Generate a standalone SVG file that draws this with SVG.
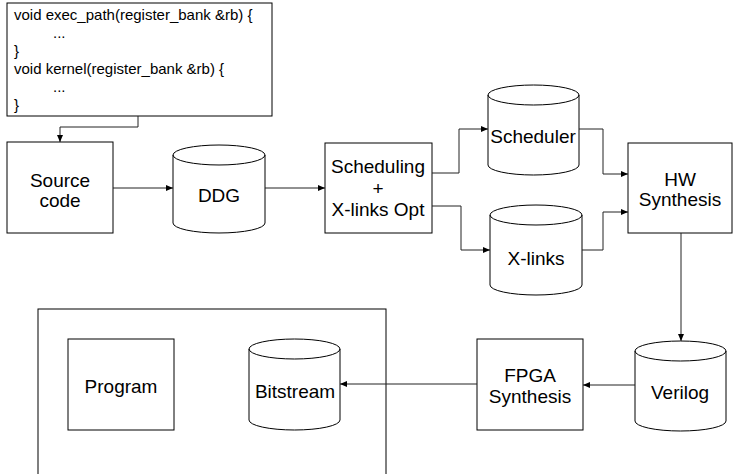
<svg xmlns="http://www.w3.org/2000/svg" width="734" height="474" viewBox="0 0 734 474">
<style>
.box{fill:#fff;stroke:#000;stroke-width:1}
.cyl{fill:#fff;stroke:#000;stroke-width:1}
.lbl{font-family:"Liberation Sans",Arial,sans-serif;font-size:19px;fill:#000;text-anchor:middle}
.code{font-family:"Liberation Sans",Arial,sans-serif;font-size:15px;fill:#000}
.con{fill:none;stroke:#222;stroke-width:1;marker-end:url(#arr)}
</style>
<defs>
<marker id="arr" markerUnits="userSpaceOnUse" markerWidth="8" markerHeight="6" refX="7" refY="3" orient="auto">
<path d="M0,0 L7,3 L0,6 z" fill="#000"/>
</marker>
</defs>
<rect width="734" height="474" fill="#fff"/>
<g id="container"><rect class="box" x="38" y="309" width="348" height="180"/></g>
<g id="code-box">
<rect class="box" x="7" y="3" width="265" height="113"/>
<text class="code" x="14" y="20">void exec_path(register_bank &amp;rb) {</text>
<text class="code" x="53" y="38">...</text>
<text class="code" x="14" y="56">}</text>
<text class="code" x="14" y="74">void kernel(register_bank &amp;rb) {</text>
<text class="code" x="53" y="92">...</text>
<text class="code" x="14" y="110">}</text>
</g>
<g id="source-code">
<rect class="box" x="7" y="142" width="106" height="91"/>
<text class="lbl" x="60" y="187">Source</text>
<text class="lbl" x="60" y="207">code</text>
</g>
<g id="ddg">
<path class="cyl" d="M173,155 A46,10 0 0 1 265,155 A46,10 0 0 1 173,155 Z M173,155 V223 A46,10 0 0 0 265,223 V155"/>
<text class="lbl" x="219" y="202">DDG</text>
</g>
<g id="scheduling">
<rect class="box" x="325" y="143" width="107" height="90"/>
<text class="lbl" x="378" y="173">Scheduling</text>
<text class="lbl" x="378" y="195">+</text>
<text class="lbl" x="378" y="216">X-links Opt</text>
</g>
<g id="scheduler">
<path class="cyl" d="M488,95 A45.5,10 0 0 1 579,95 A45.5,10 0 0 1 488,95 Z M488,95 V165 A45.5,10 0 0 0 579,165 V95"/>
<text class="lbl" x="533" y="143">Scheduler</text>
</g>
<g id="xlinks">
<path class="cyl" d="M490,215 A46,10 0 0 1 582,215 A46,10 0 0 1 490,215 Z M490,215 V285 A46,10 0 0 0 582,285 V215"/>
<text class="lbl" x="536" y="265">X-links</text>
</g>
<g id="hw-synthesis">
<rect class="box" x="628" y="143" width="104" height="90"/>
<text class="lbl" x="680" y="186">HW</text>
<text class="lbl" x="680" y="206">Synthesis</text>
</g>
<g id="verilog">
<path class="cyl" d="M635,351 A45.5,10 0 0 1 726,351 A45.5,10 0 0 1 635,351 Z M635,351 V421 A45.5,10 0 0 0 726,421 V351"/>
<text class="lbl" x="680" y="399">Verilog</text>
</g>
<g id="fpga-synthesis">
<rect class="box" x="477" y="339" width="106" height="91"/>
<text class="lbl" x="530" y="382">FPGA</text>
<text class="lbl" x="530" y="403">Synthesis</text>
</g>
<g id="bitstream">
<path class="cyl" d="M249,349 A45.5,10 0 0 1 340,349 A45.5,10 0 0 1 249,349 Z M249,349 V420 A45.5,10 0 0 0 340,420 V349"/>
<text class="lbl" x="295" y="398">Bitstream</text>
</g>
<g id="program">
<rect class="box" x="68" y="339" width="106" height="91"/>
<text class="lbl" x="121" y="393">Program</text>
</g>
<g id="connectors">
<path class="con" d="M138,116 V127 H60 V142"/>
<path class="con" d="M113,188 H173"/>
<path class="con" d="M265,188 H325"/>
<path class="con" d="M432,173 H459 V129 H488"/>
<path class="con" d="M432,206 H461 V250 H490"/>
<path class="con" d="M579,129 H603 V174 H628"/>
<path class="con" d="M582,250 H603 V212 H628"/>
<path class="con" d="M681,233 V341"/>
<path class="con" d="M635,385 H583"/>
<path class="con" d="M477,384 H340"/>
</g>
</svg>
